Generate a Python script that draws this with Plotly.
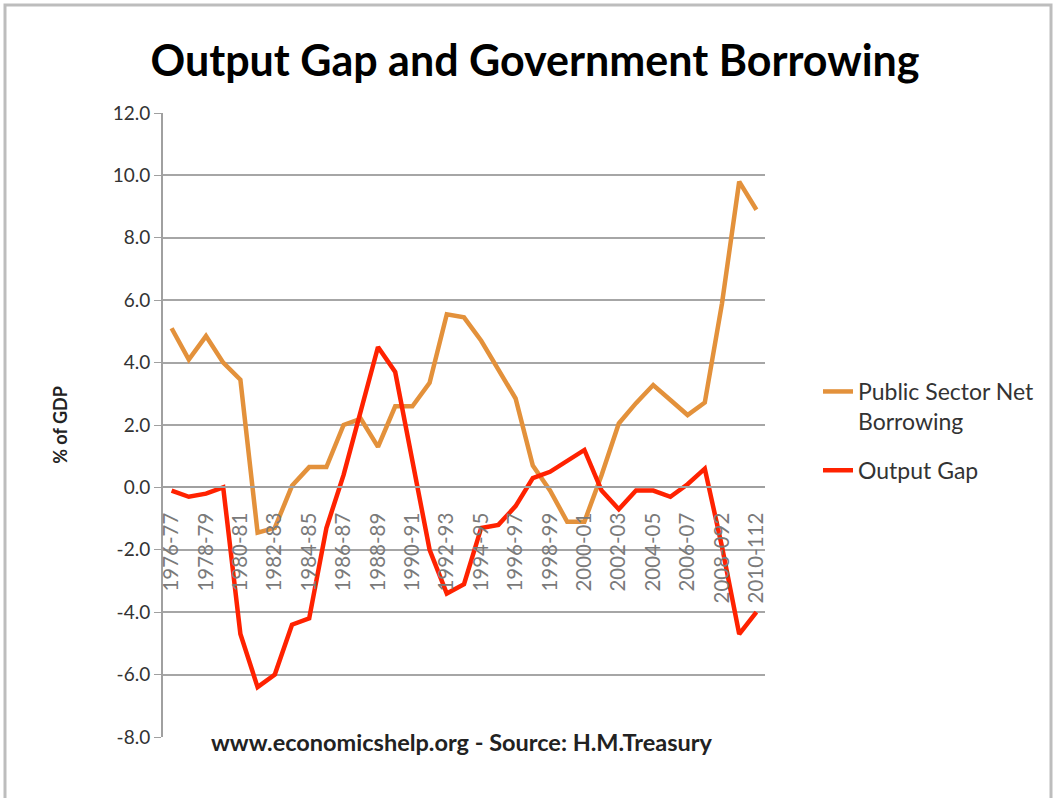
import plotly.graph_objects as go

categories = [
    "1976-77", "1977-78", "1978-79", "1979-80", "1980-81", "1981-82", "1982-83",
    "1983-84", "1984-85", "1985-86", "1986-87", "1987-88", "1988-89", "1989-90",
    "1990-91", "1991-92", "1992-93", "1993-94", "1994-95", "1995-96", "1996-97",
    "1997-98", "1998-99", "1999-00", "2000-01", "2001-02", "2002-03", "2003-04",
    "2004-05", "2005-06", "2006-07", "2007-08", "2008-092", "2009-102", "2010-112",
]
tick_labels = [c if i % 2 == 0 else "" for i, c in enumerate(categories)]

psnb = [5.1, 4.1, 4.85, 4.0, 3.45, -1.45, -1.3, 0.05, 0.65, 0.65, 2.0, 2.2,
        1.3, 2.6, 2.6, 3.35, 5.55, 5.45, 4.7, 3.8, 2.85, 0.7, -0.1, -1.1,
        -1.1, 0.4, 2.05, 2.7, 3.28, 2.8, 2.32, 2.72, 5.9, 9.8, 8.9]
output_gap = [-0.1, -0.3, -0.2, 0.0, -4.7, -6.4, -6.0, -4.4, -4.2, -1.3, 0.4, 2.5,
              4.5, 3.7, 0.9, -2.0, -3.4, -3.1, -1.3, -1.2, -0.6, 0.3, 0.5, 0.85,
              1.2, -0.1, -0.7, -0.1, -0.1, -0.3, 0.1, 0.6, -1.9, -4.7, -4.0]

y_ticks = [-8, -6, -4, -2, 0, 2, 4, 6, 8, 10, 12]
y_tick_text = ["-8.0", "-6.0", "-4.0", "-2.0", "0.0", "2.0", "4.0", "6.0",
               "8.0", "10.0", "12.0"]

W, H = 1054, 798
L, R, T, B = 163, 765, 113, 737


def px(x):
    return (x - L) / (R - L)


def py(y):
    return (B - y) / (B - T)


n = len(categories)
boundaries = [i - 0.5 for i in range(n + 1)]

fig = go.Figure()
fig.add_trace(go.Scatter(x=categories, y=psnb, mode="lines",
                         name="Public Sector Net<br>Borrowing", legendgroup="a",
                         line=dict(color="#E3913B", width=4.5)))
fig.add_trace(go.Scatter(x=categories, y=output_gap, mode="lines",
                         name="Output Gap", legendgroup="b",
                         line=dict(color="#FF2200", width=4.5)))

font_family = "Lato, 'Open Sans', sans-serif"

fig.update_layout(
    width=W, height=H,
    margin=dict(l=L, r=W - R, t=T, b=H - B),
    paper_bgcolor="white", plot_bgcolor="white",
    font=dict(family=font_family, color="#222222"),
    title=dict(text="<b>Output Gap and Government Borrowing</b>",
               x=px(535), xref="paper", xanchor="center",
               y=1 - 61 / H, yanchor="middle",
               font=dict(size=43, color="black", family=font_family)),
    showlegend=True,
    legend=dict(x=px(818), xanchor="left", y=py(370), yanchor="top",
                font=dict(size=23, color="#333333"), valign="top",
                tracegroupgap=16, bgcolor="rgba(0,0,0,0)"),
    xaxis=dict(type="category", tickmode="array", tickvals=categories,
               ticktext=tick_labels, tickangle=-90, range=[-0.5, n - 0.5],
               anchor="free", position=0.4, showline=True, linecolor="#A0A0A0",
               linewidth=2, ticks="", showgrid=False, zeroline=False,
               ticklabelstandoff=16,
               tickfont=dict(size=20.5, color="#7a7a7a")),
    xaxis2=dict(overlaying="x", anchor="free", position=0.4, side="bottom",
                range=[-0.5, n - 0.5], tickmode="array", tickvals=boundaries,
                showticklabels=False, ticks="outside", ticklen=7,
                tickcolor="#A0A0A0", tickwidth=1.5, showgrid=False,
                zeroline=False, showline=False),
    yaxis=dict(range=[-8, 12], tickmode="array", tickvals=y_ticks,
               ticktext=y_tick_text, showgrid=True, gridcolor="#A6A6A6", gridwidth=2,
               showline=True, linecolor="#A0A0A0", linewidth=2, zeroline=False,
               ticks="outside", ticklen=7, tickcolor="#A0A0A0",
               tickfont=dict(size=19, color="#333333"),
               title=dict(text="<b>% of GDP</b>", font=dict(size=18, color="#222222"),
                          standoff=40)),
)

fig.add_annotation(text="<b>www.economicshelp.org - Source: H.M.Treasury</b>",
                   x=px(462), y=py(758), xref="paper", yref="paper",
                   showarrow=False, font=dict(size=23.5, color="#222222"))

fig.add_shape(type="rect", xref="paper", yref="paper",
              x0=px(5), x1=px(1051), y0=py(805), y1=py(5),
              line=dict(color="#BDBDBD", width=3), layer="below")

fig.write_html("out.html")
